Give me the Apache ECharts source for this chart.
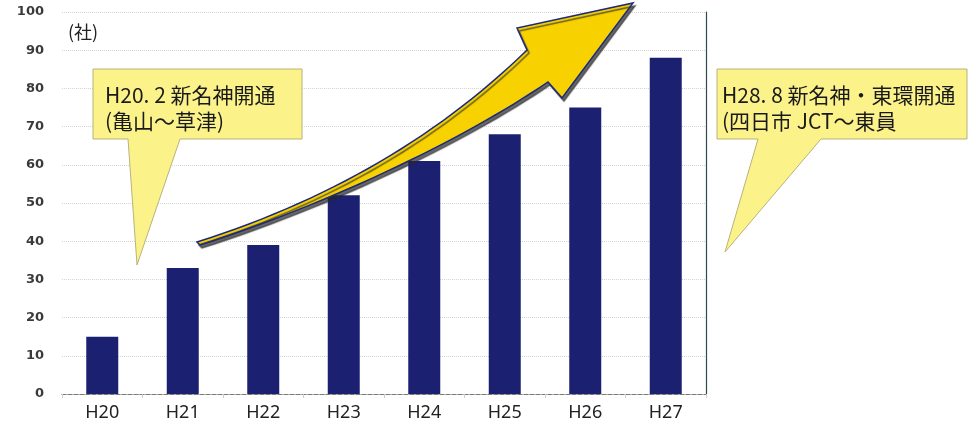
<!DOCTYPE html>
<html>
<head>
<meta charset="utf-8">
<script src="https://cdn.jsdelivr.net/npm/echarts@6/dist/echarts.min.js"></script>
<style>
  html, body { margin: 0; padding: 0; background: #fff; }
  #chart { width: 976px; height: 430px; }
</style>
</head>
<body>
<div id="chart"></div>
<script>
// 年度
const years = ['H20', 'H21', 'H22', 'H23', 'H24', 'H25', 'H26', 'H27'];
// 企業数（社）
const companies = [15, 33, 39, 52, 61, 68, 75, 88];
// 吹き出しの文言
const note1 = ['H20. 2 新名神開通', '(亀山～草津)'];
const note2 = ['H28. 8 新名神・東環開通', '(四日市 JCT～東員'];

const chart = echarts.init(document.getElementById('chart'));

const calloutFill = '#fbf289';
const calloutLine = '#b9b27c';
const noteFont = '"Noto Sans CJK JP", "Noto Sans", sans-serif';

function callout(points, x, y, lines) {
  return [
    {
      type: 'polygon',
      z: 20,
      shape: { points: points },
      style: { fill: calloutFill, stroke: calloutLine, lineWidth: 1 }
    },
    {
      type: 'text',
      z: 21,
      x: x,
      y: y,
      style: {
        text: lines.join('\n'),
        fill: '#1a1a1a',
        fontSize: 21,
        fontFamily: noteFont,
        lineHeight: 26
      }
    }
  ];
}

// cubic curve sampled into points (for the decorative arrow outline)
function cubic(p0, p1, p2, p3, n) {
  const pts = [];
  for (let i = 0; i <= n; i++) {
    const t = i / n, u = 1 - t;
    pts.push([
      u * u * u * p0[0] + 3 * u * u * t * p1[0] + 3 * u * t * t * p2[0] + t * t * t * p3[0],
      u * u * u * p0[1] + 3 * u * u * t * p1[1] + 3 * u * t * t * p2[1] + t * t * t * p3[1]
    ]);
  }
  return pts;
}

const arrowPts = [].concat(
  cubic([197, 242], [330, 200], [440, 135], [527, 50], 30),
  [[517, 28], [633, 3], [562, 98]],
  cubic([548, 82], [470, 135], [340, 200], [200, 245], 30)
);

const option = {
  animation: false,
  grid: { left: 62, right: 270, top: 12, bottom: 36 },
  xAxis: [
    {
      type: 'category',
      data: years,
      axisLine: { lineStyle: { color: '#cfcfcf' } },
      axisTick: { show: true, length: 4, lineStyle: { color: '#cfcfcf' } },
      axisLabel: {
        color: '#222',
        fontSize: 18,
        fontFamily: '"Noto Sans", sans-serif',
        margin: 10
      }
    },
    {
      type: 'category',
      position: 'top',
      data: years,
      axisLine: { show: true, lineStyle: { color: '#7a7a7a', type: 'dashed', width: 1 } },
      axisTick: { show: false },
      axisLabel: { show: false }
    }
  ],
  yAxis: [
    {
      type: 'value',
      min: 0,
      max: 100,
      interval: 10,
      axisLine: { show: false },
      axisTick: { show: false },
      axisLabel: {
        color: '#3a3a3a',
        fontSize: 13,
        fontWeight: 'bold',
        fontFamily: '"DejaVu Sans", sans-serif',
        margin: 18
      },
      splitLine: { lineStyle: { color: '#d4d4d4', type: 'dotted' } }
    },
    {
      type: 'value',
      position: 'right',
      min: 0,
      max: 100,
      interval: 10,
      axisLine: { show: true, lineStyle: { color: '#2f4a4a', width: 1.2 } },
      axisTick: { show: false },
      axisLabel: { show: false },
      splitLine: { show: false }
    }
  ],
  series: [
    {
      type: 'bar',
      data: companies,
      barWidth: 32,
      itemStyle: { color: '#1b2170' }
    }
  ],
  graphic: [
    {
      type: 'text',
      x: 68,
      y: 23,
      z: 10,
      style: { text: '(社)', fill: '#222', fontSize: 18, fontFamily: noteFont }
    },
    {
      type: 'polygon',
      z: 15,
      shape: { points: arrowPts },
      style: {
        fill: '#f7d200',
        stroke: '#1c2a7a',
        lineWidth: 1.5,
        shadowColor: 'rgba(40,40,40,0.7)',
        shadowOffsetX: 2,
        shadowOffsetY: 3,
        shadowBlur: 1
      }
    },
    ...callout([[93, 69], [302, 69], [302, 139], [180, 139], [137, 265], [128, 139], [93, 139]], 105, 82, note1),
    ...callout([[717, 69], [967, 69], [967, 139], [821, 139], [725, 252], [758, 139], [717, 139]], 722, 82, note2)
  ]
};

chart.setOption(option);
</script>
</body>
</html>
